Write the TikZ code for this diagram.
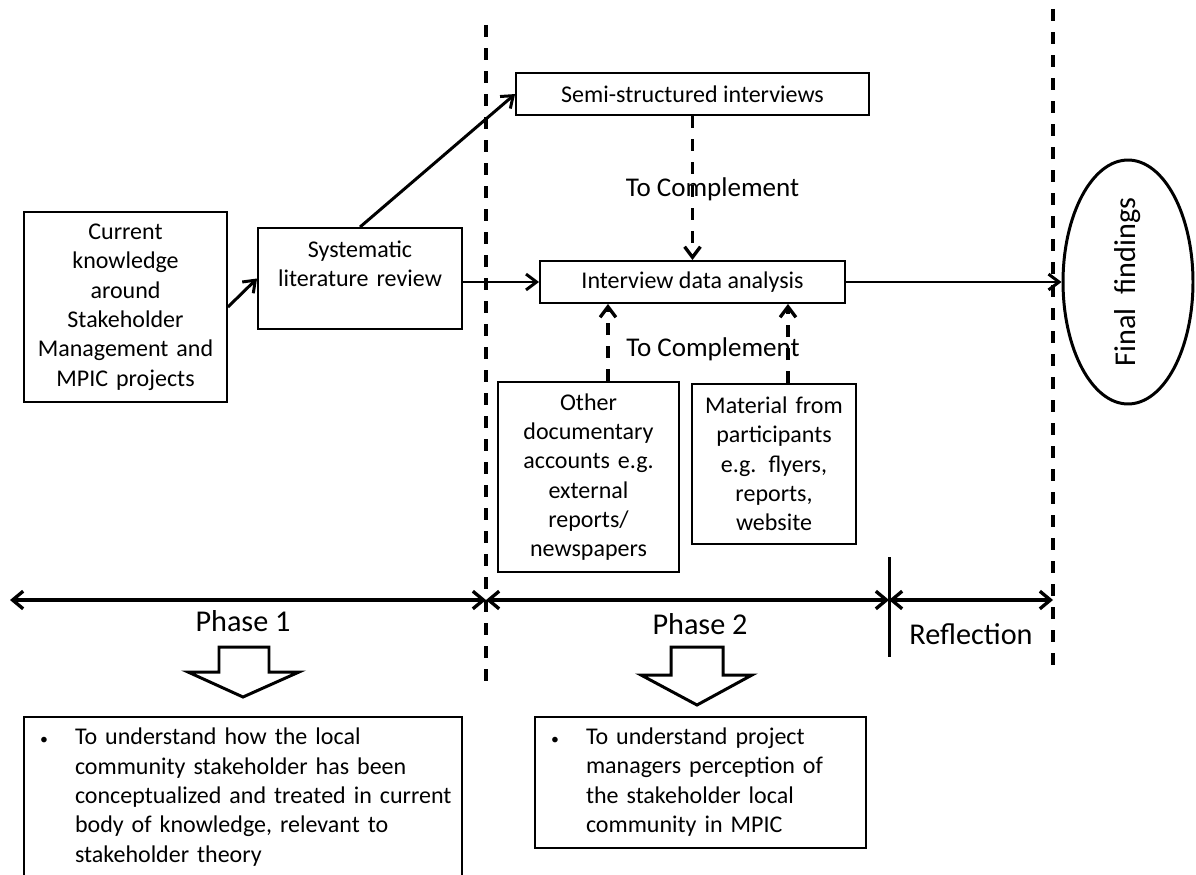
\documentclass[tikz,border=0pt]{standalone}
\usepackage{fontspec}
\setmainfont{Carlito}
\usepackage{graphicx}
\usepackage{tikz}
\usetikzlibrary{positioning,shapes.geometric,arrows.meta}

\newcommand{\boxfont}{\fontsize{13.66}{16.7}\selectfont}
\newcommand{\labfont}{\fontsize{15.4}{18}\selectfont}
\newcommand{\phasefont}{\fontsize{17.2}{20}\selectfont}
\newcommand{\smallbullet}{{\fontsize{9}{9}\selectfont\textbullet}}

\begin{document}
\begin{tikzpicture}[
        x=0.02cm, y=-0.02cm, % one unit per pixel, y going down
        node distance=3.76cm,
        box/.style={draw, line width=1.1pt, inner sep=0pt, align=center, font=\boxfont},
        aimbox/.style={draw, line width=1.1pt, inner xsep=0.32cm, inner ysep=0pt, align=left, font=\boxfont},
        flow/.style={-{Straight Barb[length=6pt,width=9pt]}, line width=1.7pt},
        compl/.style={flow, line width=1.9pt, dash pattern=on 6.8pt off 6.3pt},
        divider/.style={line width=1.9pt, dash pattern=on 6.8pt off 6.3pt},
        span/.style={{Straight Barb[length=6pt,width=10pt]}-{Straight Barb[length=6pt,width=10pt]}, line width=1.9pt},
        blockarrow/.style={line width=1.7pt, line join=miter},
    ]
    \useasboundingbox (0,0) rectangle (1196,875);

    % Define nodes
    \node[box, text width=4.06cm, minimum height=3.8cm] (cur) at (125.5,307)
        {Current\\knowledge\\around\\Stakeholder\\Management and\\MPIC projects};
    \node[box, text width=4.08cm, minimum height=2.02cm] (slr) at (360,278.5)
        {Systematic\\literature review\\~};
    \node[box, minimum width=6.1cm, minimum height=0.84cm] (ida) at (692.5,282) {Interview data analysis};
    \node[box, minimum width=7.06cm, minimum height=0.84cm, above of=ida] (semi) {Semi-structured interviews};
    \node[box, text width=3.62cm, minimum height=3.8cm] (other) at (588.5,477)
        {Other\\documentary\\accounts e.g.\\external\\reports/\\newspapers};
    \node[box, text width=3.28cm, minimum height=3.2cm] (mat) at (774,464)
        {Material from\\participants\\e.g. flyers,\\reports,\\website};
    \node[draw, ellipse, line width=1.7pt, minimum width=2.6cm, minimum height=4.88cm, inner sep=0pt,
        font=\phasefont] (ff) at (1128,282) {\rotatebox{90}{Final\ \ findings}\hspace{0.4cm}};
    \node[font=\labfont] (comp2) at (713,349) {To Complement};

    % Phases
    \node[font=\phasefont] (ph1) at (243,621) {Phase 1};
    \node[font=\phasefont] (ph2) at (700,624) {Phase 2};
    \node[font=\phasefont] (refl) at (971,634) {Reflection};
    \node[aimbox, text width=8.12cm, minimum height=3.22cm] (aim1) at (243,797.5)
        {\begin{tabular}{@{}p{0.7cm}@{}l@{}}
            \smallbullet & To understand how the local\\
            & community stakeholder has been\\
            & conceptualized and treated in current\\
            & body of knowledge, relevant to\\
            & stakeholder theory
        \end{tabular}};
    \node[aimbox, text width=5.98cm, minimum height=2.62cm] (aim2) at (700.5,782.5)
        {\begin{tabular}{@{}p{0.7cm}@{}l@{}}
            \smallbullet & To understand project\\
            & managers perception of\\
            & the stakeholder local\\
            & community in MPIC
        \end{tabular}};

    % Free ends of the phase lines
    \coordinate (d1top) at (486,25);
    \coordinate (d1bot) at (486,688);
    \coordinate (d2top) at (1053,9);
    \coordinate (d2bot) at (1053,673);
    \coordinate (rtop) at (889,557);
    \coordinate (rbot) at (889,657);
    \coordinate (p0) at (10,600);
    \coordinate (p1) at (486,600);
    \coordinate (p2) at (889,600);
    \coordinate (p3) at (1053,600);
    \coordinate (o1) at ([xshift=0.39cm]other.north);
    \coordinate (m1) at ([xshift=0.28cm]mat.north);

    % Define arrows
    \draw[flow] (cur.east) -- (slr.west);
    \draw[flow] (slr.north) -- (semi.west);
    \draw[flow] (slr.east |- ida.west) -- (ida.west);
    \draw[flow] (ida.east) -- (ff.west);
    \draw[compl] (semi.south) -- node[pos=0.51, xshift=0.4cm, font=\labfont] {To Complement} (ida.north);
    \draw[compl] (o1) -- (o1 |- ida.south);
    \draw[compl] (m1) -- (m1 |- ida.south);

    % Phase lines
    \draw[divider] (d1top) -- (d1bot);
    \draw[divider] (d2top) -- (d2bot);
    \draw[line width=1.7pt] (rtop) -- (rbot);
    \draw[span] (p0) -- (p1);
    \draw[span] (p1) -- (p2);
    \draw[span] (p2) -- (p3);

    % Block arrows down to the aims
    \draw[blockarrow] (219,647) -- (269,647) -- (269,672) -- (299,672) -- (243,697) -- (188,672) -- (219,672) -- cycle;
    \draw[blockarrow] (671,647) -- (723,647) -- (723,675) -- (752,675) -- (697,705) -- (641,675) -- (671,675) -- cycle;
\end{tikzpicture}
\end{document}
